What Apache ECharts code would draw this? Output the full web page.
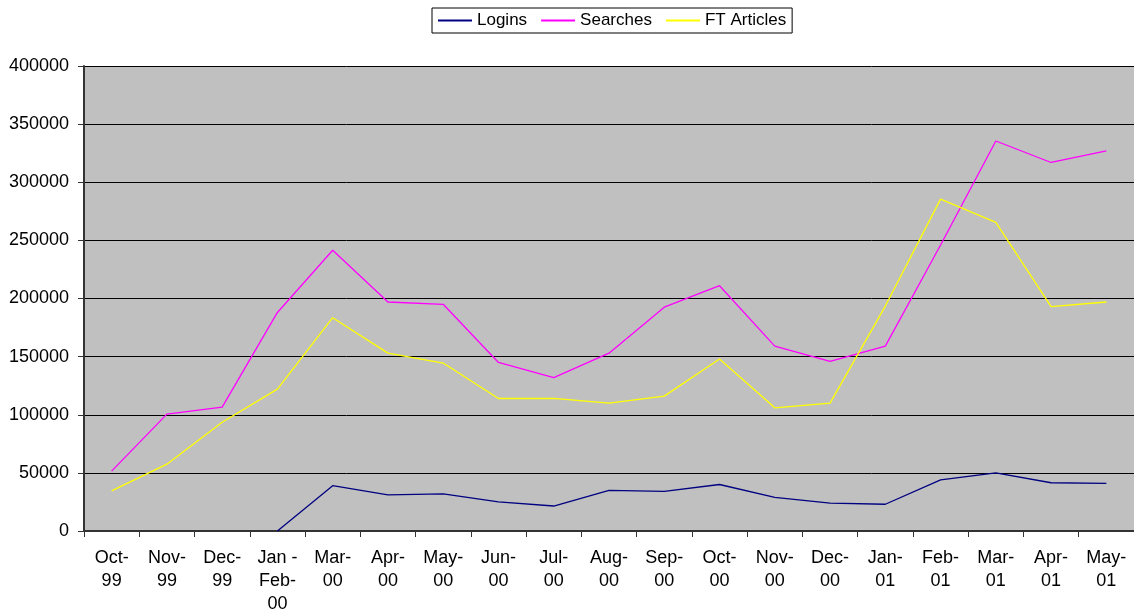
<!DOCTYPE html>
<html><head><meta charset="utf-8">
<script src="https://cdn.jsdelivr.net/npm/echarts@6/dist/echarts.min.js"></script>
<style>html,body{margin:0;padding:0;background:#fff}#c{width:1134px;height:616px}</style>
</head><body><div id="c"></div>
<script>
const categories = ["Oct-\n99","Nov-\n99","Dec-\n99","Jan -\nFeb-\n00","Mar-\n00","Apr-\n00","May-\n00","Jun-\n00","Jul-\n00","Aug-\n00","Sep-\n00","Oct-\n00","Nov-\n00","Dec-\n00","Jan-\n01","Feb-\n01","Mar-\n01","Apr-\n01","May-\n01"];
const logins = [null,null,null,0,39000,31000,32000,25000,21500,35000,34000,40000,29000,24000,23000,44000,50000,41500,41000];
const searches = [51500,100500,106500,188000,241500,197000,195000,145000,132000,153000,192500,211000,159000,146000,159000,246000,335500,317000,327000];
const ftArticles = [34500,57500,93500,122000,183500,153000,144500,114000,114000,110000,116000,148000,106000,110000,193500,285500,265500,193000,197000];
const yTicks = [0,50000,100000,150000,200000,250000,300000,350000,400000];

const font = 'Liberation Sans, Arial, sans-serif';
const chart = echarts.init(document.getElementById('c'), null, {renderer:'canvas'});
const mk = (name, data, color) => ({
  name, type:'line', data, symbol:'none', connectNulls:false,
  lineStyle:{color, width:1.3}, itemStyle:{color}, animation:false
});
chart.setOption({
  animation:false,
  legend:{
    top:8, left:432, itemGap:14, itemWidth:34, itemHeight:2,
    icon:'rect', borderColor:'#000', borderWidth:1, padding:[4,6,4,6],
    textStyle:{fontFamily:font, fontSize:17, color:'#000'},
    data:['Logins','Searches','FT Articles']
  },
  grid:{left:84, right:0, top:66, bottom:85, show:true, backgroundColor:'#C0C0C0', borderWidth:0},
  xAxis:{
    type:'category', data:categories, boundaryGap:true,
    axisLine:{lineStyle:{color:'#333', width:2}},
    axisTick:{show:true, alignWithLabel:false, length:6, lineStyle:{color:'#333'}},
    axisLabel:{fontFamily:font, fontSize:18, color:'#000', lineHeight:23, margin:16, interval:0},
    splitLine:{show:false}
  },
  yAxis:{
    type:'value', min:0, max:400000, interval:50000,
    axisLine:{show:true, lineStyle:{color:'#333', width:2}},
    axisTick:{show:true, length:6, lineStyle:{color:'#333'}},
    axisLabel:{fontFamily:font, fontSize:18, color:'#000', margin:15,
      formatter:v=>yTicks.includes(v)?String(v):''},
    splitLine:{show:true, lineStyle:{color:'#000', width:1}}
  },
  series:[
    mk('Logins', logins, '#000080'),
    mk('Searches', searches, '#FF00FF'),
    mk('FT Articles', ftArticles, '#FFFF00')
  ]
});
</script></body></html>
